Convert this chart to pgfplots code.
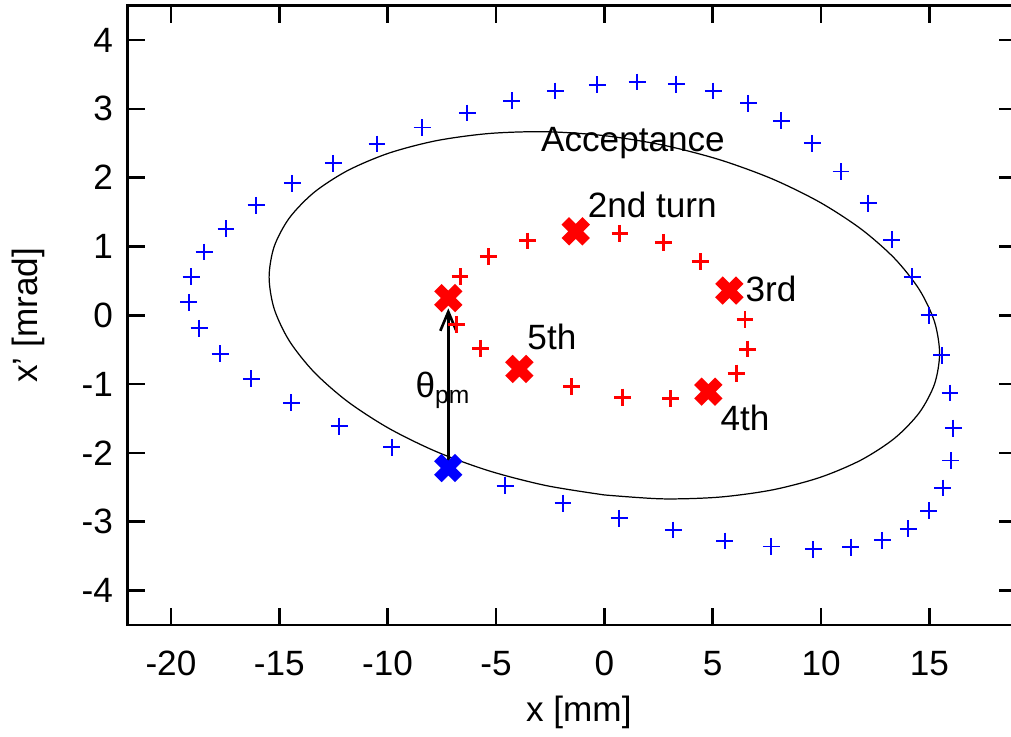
\documentclass[border=0pt]{standalone}
\usepackage{pgfplots}
\pgfplotsset{compat=1.18}
\usepackage{fontspec}
\setmainfont{Liberation Sans}
\usetikzlibrary{arrows.meta}
\definecolor{pblue}{RGB}{0,0,255}
\definecolor{pred}{RGB}{255,0,0}
\begin{document}
\begin{tikzpicture}
\begin{axis}[
  scale only axis, width=88.85mm, height=61.92mm,
  xmin=-22, xmax=19, ymin=-4.5, ymax=4.5,
  xtick={-20,-15,-10,-5,0,5,10,15}, ytick={-4,-3,-2,-1,0,1,2,3,4},
  tick align=inside, major tick length=1.7mm,
  axis line style={line width=0.75pt},
  every tick/.style={line width=0.75pt, black},
  /pgf/number format/assume math mode=true,
  xticklabel style={anchor=base, inner sep=0pt, yshift=-5.06mm},
  yticklabel style={anchor=east, inner sep=0pt, xshift=-1.4mm},
  xlabel={x [mm]}, ylabel={x’ [mrad]},
  every axis x label/.style={at={(axis description cs:0.5,0)}, anchor=center, xshift=0.7mm, yshift=-8.8mm},
  every axis y label/.style={at={(axis description cs:-0.112,0.5)}, rotate=90, anchor=center},
  clip=false,
]
% acceptance ellipse
\addplot[black, line width=0.35pt, smooth, mark=none] coordinates {
 (0,-2.611) (-2.686,-2.475) (-5.291,-2.264) (-7.735,-1.984) (-9.944,-1.643)
 (-11.850,-1.253) (-13.397,-0.825) (-14.537,-0.372) (-15.235,0.093) (-15.47,0.555)
 (-15.235,1.000) (-14.537,1.414) (-13.397,1.786) (-11.850,2.103) (-9.944,2.357)
 (-7.735,2.539) (-5.291,2.643) (-2.686,2.668) (0,2.611) (2.686,2.475)
 (5.291,2.264) (7.735,1.984) (9.944,1.643) (11.850,1.253) (13.397,0.825)
 (14.537,0.372) (15.235,-0.093) (15.47,-0.555) (15.235,-1.000) (14.537,-1.414)
 (13.397,-1.786) (11.850,-2.103) (9.944,-2.357) (7.735,-2.539) (5.291,-2.643)
 (2.686,-2.668) (0,-2.611)
};
% outer (blue) turn
\addplot[only marks, mark=+, mark size=2.4pt, color=pblue, mark options={pblue, draw=pblue}, line width=0.55pt] coordinates {
 (-19.17,0.19) (-19.07,0.56) (-18.47,0.92) (-17.46,1.26) (-16.07,1.60)
 (-14.40,1.92) (-12.51,2.21) (-10.49,2.49) (-8.41,2.73) (-6.32,2.94)
 (-4.27,3.12) (-2.26,3.26) (-0.32,3.35) (1.51,3.39) (3.32,3.36)
 (5.03,3.26) (6.65,3.08) (8.17,2.83) (9.60,2.50) (10.92,2.09)
 (12.17,1.63) (13.26,1.10) (14.21,0.56) (14.98,0.00) (15.57,-0.58)
 (15.95,-1.13) (16.10,-1.64) (15.99,-2.11) (15.62,-2.51) (14.97,-2.84)
 (14.03,-3.10) (12.83,-3.27) (11.37,-3.37) (9.64,-3.40) (7.71,-3.36)
 (5.56,-3.28) (3.18,-3.12) (0.69,-2.95) (-1.91,-2.73) (-4.58,-2.48)
 (-9.81,-1.92) (-12.24,-1.61) (-14.44,-1.27) (-16.29,-0.92) (-17.73,-0.56)
 (-18.70,-0.19)
};
% inner (red) turns
\addplot[only marks, mark=+, mark size=2.4pt, color=pred, mark options={pred, draw=pred}, line width=0.85pt] coordinates {
 (-6.66,0.56) (-5.35,0.85) (-3.53,1.08) (0.72,1.19) (2.72,1.06)
 (4.42,0.78) (6.49,-0.06) (6.62,-0.49) (6.08,-0.84) (3.06,-1.21)
 (0.85,-1.19) (-1.50,-1.04) (-5.70,-0.48) (-6.84,-0.14)
};
% arrow theta_pm
\draw[black, line width=0.75pt, -{Straight Barb[length=1.9mm, width=1.6mm, line width=0.75pt]}] (axis cs:-7.2,-2.2) -- (axis cs:-7.2,0.10);
% highlighted turns
\addplot[only marks, mark=x, mark size=4.2pt, color=pblue, mark options={pblue}, line width=3pt] coordinates {(-7.20,-2.22)};
\addplot[only marks, mark=x, mark size=4.2pt, color=pred, mark options={pred}, line width=3pt] coordinates {
 (-7.20,0.25) (-1.32,1.22) (5.77,0.36) (4.80,-1.11) (-3.92,-0.78)
};
\node[anchor=center, inner sep=0pt] at (axis cs:1.32,2.50) {Acceptance};
\node[anchor=center, inner sep=0pt] at (axis cs:2.21,1.60) {2nd turn};
\node[anchor=west, inner sep=0pt] at (axis cs:6.49,0.38) {3rd};
\node[anchor=center, inner sep=0pt] at (axis cs:6.49,-1.49) {4th};
\node[anchor=center, inner sep=0pt] at (axis cs:-2.42,-0.32) {5th};
\node[anchor=base west, inner sep=0pt] at (axis cs:-8.74,-1.20) {θ\textsubscript{pm}};
\end{axis}
\pgfresetboundingbox
\path (current axis.south west) ++(-12.76mm,-11.11mm) rectangle ++(101.1mm,73.6mm);
\end{tikzpicture}
\end{document}
